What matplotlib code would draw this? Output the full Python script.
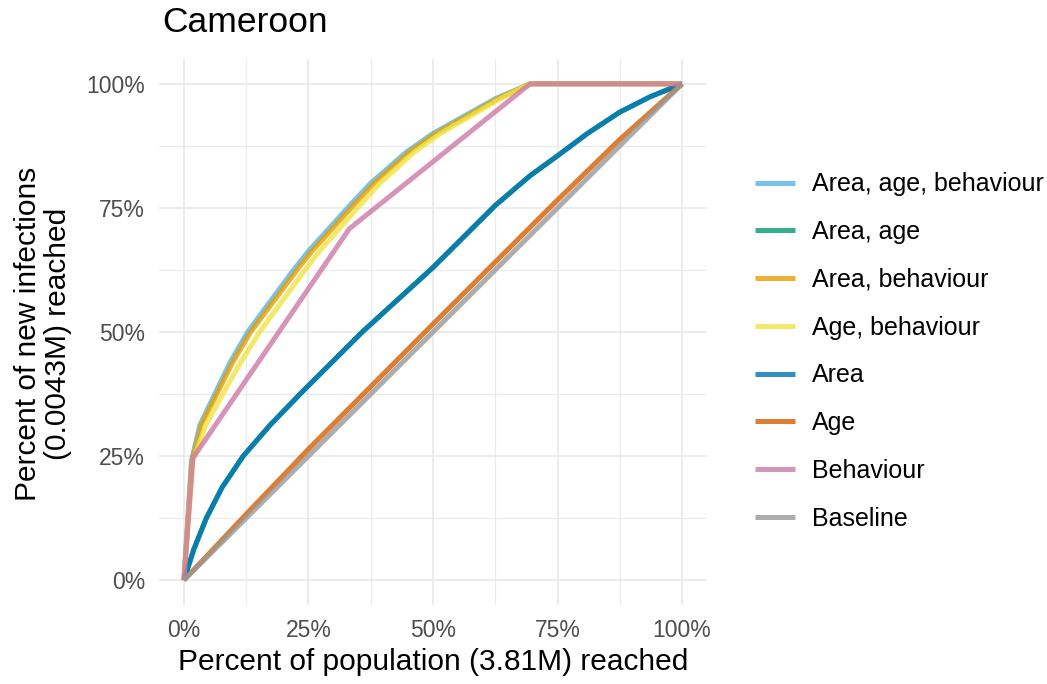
import matplotlib
matplotlib.use("Agg")
import matplotlib.pyplot as plt
from matplotlib.ticker import MultipleLocator, FuncFormatter

plt.rcParams.update({"font.family": ["Liberation Sans", "DejaVu Sans"]})

# curves (percent of population, percent of new infections)
aab_x = [0, 1.5, 3.2, 6.2, 9.2, 12.8, 22, 25, 33.3, 37.5, 44.7, 50, 62.5, 69.5, 100]
aab_y = [0, 24, 31.25, 37.5, 43.75, 50, 62.5, 66.3, 75.5, 80, 86.3, 90, 97, 100, 100]
ab_x = [0, 1.6, 3.5, 6.6, 9.7, 13.4, 22.7, 25.7, 34, 38.2, 45.3, 50.6, 63, 69.5, 100]
ab_y = [0, 24, 31.25, 37.5, 43.75, 50, 62.5, 66.3, 75.5, 80, 86.3, 90, 97, 100, 100]
agb_x = [0, 1.8, 4.4, 7.8, 11.3, 15.2, 24.3, 27.2, 35.3, 39.4, 46.3, 51.5, 63.5, 69.5, 100]
agb_y = [0, 24, 31.25, 37.5, 43.75, 50, 62.5, 66.3, 75.5, 80, 86.3, 90, 97, 100, 100]
area_x = [0, 2, 4.5, 7.7, 11.9, 17.3, 23.8, 29.3, 35.8, 50, 62.5, 69.5, 75, 81, 87.5, 93.6, 100]
area_y = [0, 6.25, 12.5, 18.75, 25, 31.25, 38, 43.5, 50, 63, 75.5, 81.5, 85.5, 90, 94.3, 97.4, 100]
aa_x = area_x
aa_y = area_y
age_x = [0, 12.5, 25, 37.5, 50, 62.5, 75, 87.5, 100]
age_y = [0, 13.3, 26.4, 39, 51.6, 64.1, 76.6, 88.8, 100]
beh_x = [0, 1.8, 33.2, 69.5, 100]
beh_y = [0, 24.6, 70.8, 100, 100]
base_x = [0, 100]
base_y = [0, 100]

labels = ["Area, age, behaviour", "Area, age", "Area, behaviour", "Age, behaviour",
          "Area", "Age", "Behaviour", "Baseline"]
colors = ["#56B4E9", "#009E73", "#E69F00", "#F0E442",
          "#0072B2", "#D55E00", "#CC79A7", "#999999"]
series = [(aab_x, aab_y), (aa_x, aa_y), (ab_x, ab_y), (agb_x, agb_y),
          (area_x, area_y), (age_x, age_y), (beh_x, beh_y), (base_x, base_y)]

fig = plt.figure(figsize=(10.47, 6.84), dpi=100)
ax = fig.add_axes([159/1047, 1 - 605/684, 548/1047, 546/684])

handles = []
for (xs, ys), lab, c in zip(series, labels, colors):
    h, = ax.plot(xs, ys, color=c, lw=3.6, alpha=0.8, label=lab,
                 solid_capstyle="butt", solid_joinstyle="round")
    handles.append(h)

ax.set_xlim(-5, 105)
ax.set_ylim(-5, 105)
pct = FuncFormatter(lambda v, p: f"{v:.0f}%")
for a in (ax.xaxis, ax.yaxis):
    a.set_major_locator(MultipleLocator(25))
    a.set_minor_locator(MultipleLocator(12.5))
    a.set_major_formatter(pct)
ax.grid(which="major", color="#EBEBEB", lw=1.3)
ax.grid(which="minor", color="#EBEBEB", lw=0.8)
ax.set_axisbelow(True)
for s in ax.spines.values():
    s.set_visible(False)
ax.tick_params(which="both", length=0, labelsize=16.5, labelcolor="#4D4D4D")
ax.tick_params(axis="x", pad=10)
ax.tick_params(axis="y", pad=10)

fig.text(433/1047, 1 - 662/684, "Percent of population (3.81M) reached",
         fontsize=21.5, ha="center", va="center")
fig.text(43/1047, 1 - 334/684, "Percent of new infections\n(0.0043M) reached",
         fontsize=21.5, ha="center", va="center", rotation=90,
         multialignment="center", linespacing=1.12)
fig.text(162/1047, 1 - 22/684, "Cameroon", fontsize=25.5, va="center", ha="left")

fig.legend(handles=handles, labels=labels, loc="center left",
           bbox_to_anchor=(755/1047, 1 - 351.5/684), frameon=False,
           fontsize=18, handlelength=1.6, handletextpad=0.68, labelspacing=0.95,
           borderpad=0, borderaxespad=0)

fig.savefig("out.png", dpi=100)
